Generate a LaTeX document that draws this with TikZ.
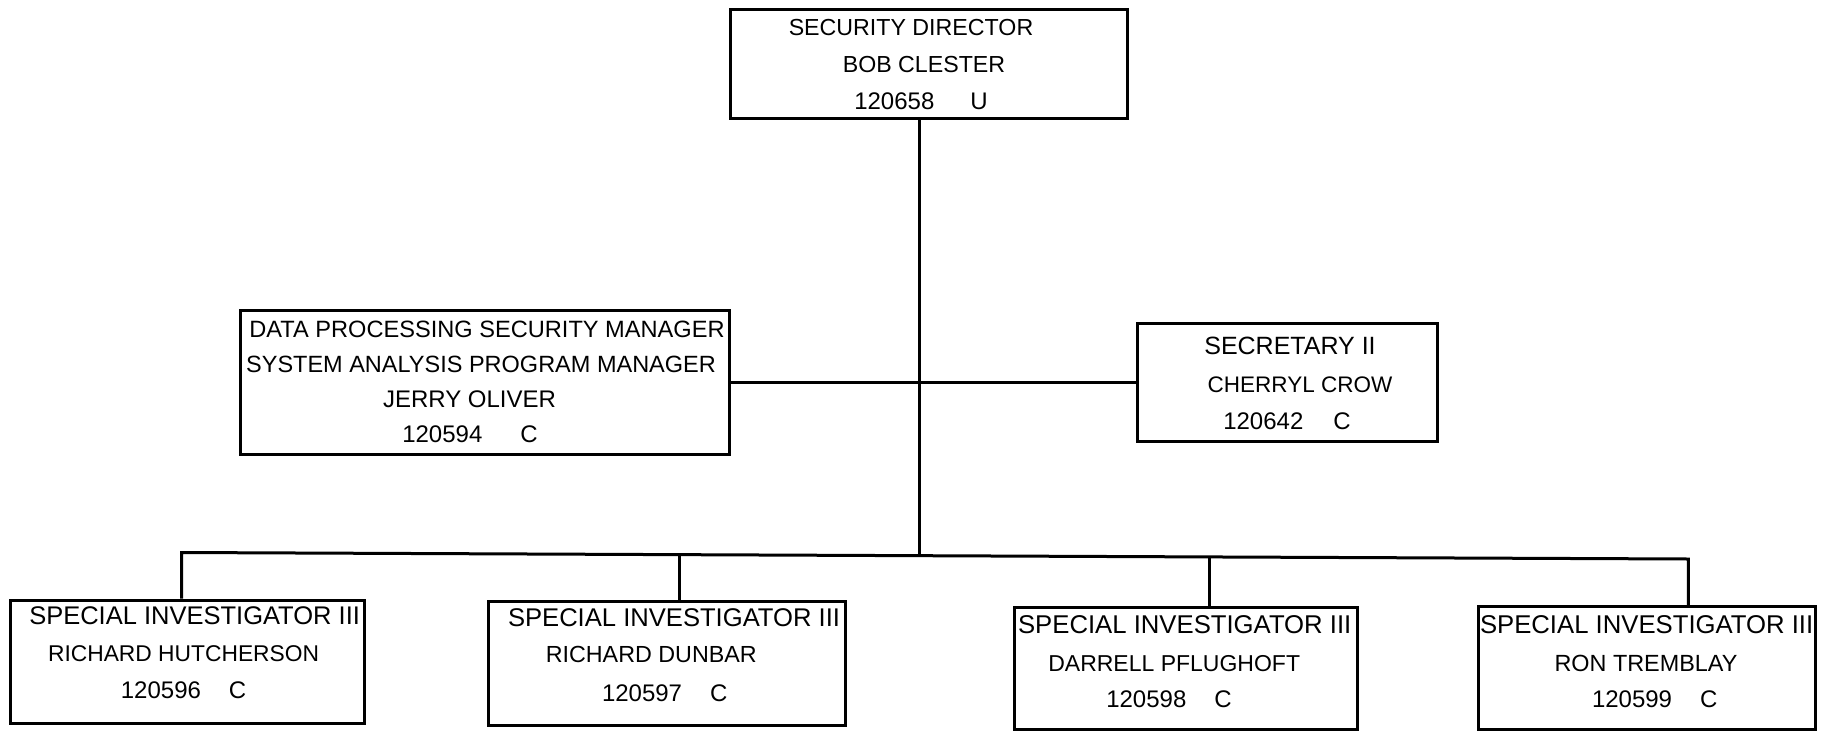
\documentclass[tikz,border=0pt]{standalone}
\usepackage{fontspec}
\setmainfont{Liberation Sans}
\begin{document}
\begin{tikzpicture}[x=1pt,y=-1pt,
  box/.style={draw, line width=3pt, inner sep=0pt},
  ln/.style={anchor=base, inner sep=0pt, font=\fontsize{#1}{28pt}\selectfont},
  ln/.default=24pt,
  conn/.style={line width=3pt}]
\useasboundingbox (0,0) rectangle (1822,731);

% boxes
\node[box, minimum width=396.5pt, minimum height=109pt] (T) at (929.2,63.5) {};
\node[box, minimum width=489pt, minimum height=144pt] (L) at (484.5,382) {};
\node[box, minimum width=300pt, minimum height=117.7pt] (R) at (1287,382.8) {};
\node[box, minimum width=354.5pt, minimum height=123pt] (B1) at (187.7,661.5) {};
\node[box, minimum width=357pt, minimum height=124pt] (B2) at (666.5,663) {};
\node[box, minimum width=342.8pt, minimum height=121.3pt] (B3) at (1185.8,668.4) {};
\node[box, minimum width=337pt, minimum height=122.4pt] (B4) at (1646.5,667.8) {};

% texts
\node[ln=23.2pt] (T1) at (911,35) {SECURITY DIRECTOR};
\node[ln=23.2pt] (T2) at (924,72.5) {BOB CLESTER};
\node[ln] (T3) at (921,109) {120658\hspace{36pt}U};

\node[ln=23.6pt] (L1) at (487,337) {DATA PROCESSING SECURITY MANAGER};
\node[ln=23.5pt] (L2) at (481,372) {SYSTEM ANALYSIS PROGRAM MANAGER};
\node[ln] (L3) at (469.5,407) {JERRY OLIVER};
\node[ln] (L4) at (470,442) {120594\hspace{38pt}C};

\node[ln=25pt] (R1) at (1290,354.5) {SECRETARY II};
\node[ln=22.5pt] (R2) at (1300,392.5) {CHERRYL CROW};
\node[ln] (R3) at (1287,429) {120642\hspace{30pt}C};

\node[ln=25.5pt] (B1a) at (194.6,624.5) {SPECIAL INVESTIGATOR III};
\node[ln=22.8pt] (B1b) at (183.6,661.6) {RICHARD HUTCHERSON};
\node[ln] (B1c) at (183.6,698.6) {120596\hspace{28pt}C};

\node[ln=25.6pt] (B2a) at (674,626.8) {SPECIAL INVESTIGATOR III};
\node[ln=23.3pt] (B2b) at (651.3,662.8) {RICHARD DUNBAR};
\node[ln] (B2c) at (664.7,701.2) {120597\hspace{28pt}C};

\node[ln=25.7pt] (B3a) at (1184.7,633.8) {SPECIAL INVESTIGATOR III};
\node[ln=23pt] (B3b) at (1174.2,671) {DARRELL PFLUGHOFT};
\node[ln] (B3c) at (1169,707) {120598\hspace{28pt}C};

\node[ln=25.7pt] (B4a) at (1646.6,633.8) {SPECIAL INVESTIGATOR III};
\node[ln=23.4pt] (B4b) at (1646,671) {RON TREMBLAY};
\node[ln] (B4c) at (1654.7,707) {120599\hspace{28pt}C};

% connectors
\coordinate (j) at (919.8,555.7);
\coordinate (d1) at (181.5,552.5);
\coordinate (d2) at (679.8,554.6);
\coordinate (d3) at (1209.6,556.9);
\coordinate (d4) at (1688.4,559);

\draw[conn] (T.south -| j) -- (j);
\draw[conn] (L.east) -- (L.east -| R.west);
\draw[conn] (d1 |- B1.north) -- (d1) -- (d4) -- (d4 |- B4.north);
\draw[conn] (d2) -- (d2 |- B2.north);
\draw[conn] (d3) -- (d3 |- B3.north);
\end{tikzpicture}
\end{document}
